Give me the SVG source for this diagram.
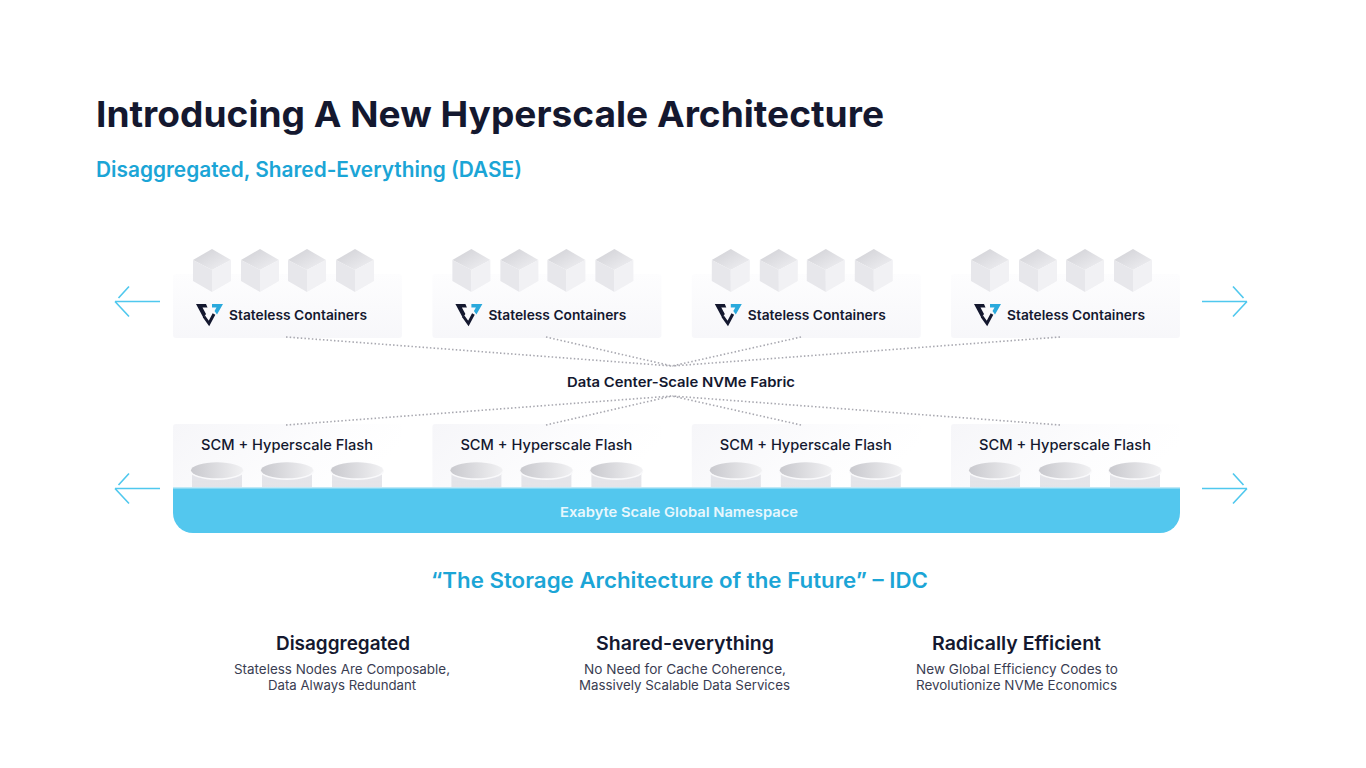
<svg xmlns="http://www.w3.org/2000/svg" width="1366" height="768" viewBox="0 0 1366 768">
<style>
text{font-family:"Inter","Liberation Sans",sans-serif;fill:#14182f}
.title{font-size:36px;font-weight:700}
.blue{fill:#1ba5d6;font-size:21px;font-weight:600}
.lbl{font-size:13.5px;font-weight:600}
.scm{font-size:14.5px;font-weight:500}
.head{font-size:19px;font-weight:600}
.sub{font-size:13px;font-weight:400;fill:#3a3d52}
.dot{stroke:#a8a8b0;stroke-width:1.6;stroke-dasharray:1.5 2.2;fill:none}
.arrow{stroke:#4fc8ee;stroke-width:1.6;fill:none}
</style>
<defs>
<linearGradient id="boxTop" x1="0" y1="0" x2="0" y2="1"><stop offset="0" stop-color="#fdfdfe"/><stop offset="1" stop-color="#f7f7fa"/></linearGradient>
<linearGradient id="boxBot" x1="0" y1="0" x2="1" y2="0.3"><stop offset="0" stop-color="#f6f6f9"/><stop offset="0.7" stop-color="#fdfdfe"/><stop offset="1" stop-color="#ffffff"/></linearGradient>
<linearGradient id="cubeTop" x1="0" y1="0" x2="1" y2="1"><stop offset="0" stop-color="#cfcfd4"/><stop offset="1" stop-color="#f1f1f4"/></linearGradient>
<linearGradient id="cylTop" x1="0" y1="0" x2="1" y2="0"><stop offset="0" stop-color="#c9c9ce"/><stop offset="1" stop-color="#f1f1f3"/></linearGradient>
<linearGradient id="cylBody" x1="0" y1="0" x2="0" y2="1"><stop offset="0" stop-color="#e6e6ea"/><stop offset="1" stop-color="#dcdce2" stop-opacity="0.75"/></linearGradient>
<filter id="soft" x="-10%" y="-10%" width="120%" height="120%"><feGaussianBlur stdDeviation="0.7"/></filter>
<g id="cube" filter="url(#soft)">
<path d="M0-21 19-10 0 0-19-10Z" fill="url(#cubeTop)"/>
<path d="M-19-10 0 0V22L-19 11Z" fill="#e7e7eb"/>
<path d="M19-10 0 0V22L19 11Z" fill="#f1f1f4"/>
</g>
<g id="cyl" filter="url(#soft)">
<path d="M-25 0V17H25V0Z" fill="url(#cylBody)"/>
<ellipse cx="0" cy="0" rx="27" ry="9" fill="#f9f9fb"/>
<ellipse cx="0" cy="-0.7" rx="26" ry="8" fill="url(#cylTop)"/>
</g>
<g id="logo">
<path d="M196 304H206L207.500 307.500H202.500L206 314 203.500 318Z" fill="#14182f"/>
<path d="M212 304H223L217 314.500 214.500 311 216.500 307.500H212Z" fill="#2aa9dc"/>
<path d="M204 316.500 209 323.500 214 314" fill="none" stroke="#14182f" stroke-width="3"/>
</g>
<path id="arrowL" d="M0 0H45M14-15 3.500-3.500M0 0 14 15"/>
</defs>

<g id="heading">
<text class="title" x="96" y="127" textLength="788" lengthAdjust="spacingAndGlyphs">Introducing A New Hyperscale Architecture</text>
<text class="blue" x="96" y="177" textLength="426" lengthAdjust="spacingAndGlyphs">Disaggregated, Shared-Everything (DASE)</text>
</g>

<g id="container-1">
<rect x="173" y="274" width="229" height="64" rx="3" fill="url(#boxTop)"/>
<use href="#cube" x="212" y="270"/><use href="#cube" x="260" y="270"/><use href="#cube" x="307" y="270"/><use href="#cube" x="355" y="270"/>
<use href="#logo"/>
<text class="lbl" x="229" y="320" textLength="138" lengthAdjust="spacingAndGlyphs">Stateless Containers</text>
</g>
<g id="container-2" transform="translate(259.400 0)">
<rect x="173" y="274" width="229" height="64" rx="3" fill="url(#boxTop)"/>
<use href="#cube" x="212" y="270"/><use href="#cube" x="260" y="270"/><use href="#cube" x="307" y="270"/><use href="#cube" x="355" y="270"/>
<use href="#logo"/>
<text class="lbl" x="229" y="320" textLength="138" lengthAdjust="spacingAndGlyphs">Stateless Containers</text>
</g>
<g id="container-3" transform="translate(518.800 0)">
<rect x="173" y="274" width="229" height="64" rx="3" fill="url(#boxTop)"/>
<use href="#cube" x="212" y="270"/><use href="#cube" x="260" y="270"/><use href="#cube" x="307" y="270"/><use href="#cube" x="355" y="270"/>
<use href="#logo"/>
<text class="lbl" x="229" y="320" textLength="138" lengthAdjust="spacingAndGlyphs">Stateless Containers</text>
</g>
<g id="container-4" transform="translate(778 0)">
<rect x="173" y="274" width="229" height="64" rx="3" fill="url(#boxTop)"/>
<use href="#cube" x="212" y="270"/><use href="#cube" x="260" y="270"/><use href="#cube" x="307" y="270"/><use href="#cube" x="355" y="270"/>
<use href="#logo"/>
<text class="lbl" x="229" y="320" textLength="138" lengthAdjust="spacingAndGlyphs">Stateless Containers</text>
</g>

<g id="fabric"><text class="lbl" x="567" y="386.500" textLength="228" lengthAdjust="spacingAndGlyphs">Data Center-Scale NVMe Fabric</text></g>

<g id="flash-1">
<rect x="173" y="424" width="229" height="66" rx="3" fill="url(#boxBot)"/>
<use href="#cyl" x="217" y="471"/><use href="#cyl" x="287" y="471"/><use href="#cyl" x="357" y="471"/>
<text class="scm" x="201" y="450" textLength="172" lengthAdjust="spacingAndGlyphs">SCM + Hyperscale Flash</text>
</g>
<g id="flash-2" transform="translate(259.400 0)">
<rect x="173" y="424" width="229" height="66" rx="3" fill="url(#boxBot)"/>
<use href="#cyl" x="217" y="471"/><use href="#cyl" x="287" y="471"/><use href="#cyl" x="357" y="471"/>
<text class="scm" x="201" y="450" textLength="172" lengthAdjust="spacingAndGlyphs">SCM + Hyperscale Flash</text>
</g>
<g id="flash-3" transform="translate(518.800 0)">
<rect x="173" y="424" width="229" height="66" rx="3" fill="url(#boxBot)"/>
<use href="#cyl" x="217" y="471"/><use href="#cyl" x="287" y="471"/><use href="#cyl" x="357" y="471"/>
<text class="scm" x="201" y="450" textLength="172" lengthAdjust="spacingAndGlyphs">SCM + Hyperscale Flash</text>
</g>
<g id="flash-4" transform="translate(778 0)">
<rect x="173" y="424" width="229" height="66" rx="3" fill="url(#boxBot)"/>
<use href="#cyl" x="217" y="471"/><use href="#cyl" x="287" y="471"/><use href="#cyl" x="357" y="471"/>
<text class="scm" x="201" y="450" textLength="172" lengthAdjust="spacingAndGlyphs">SCM + Hyperscale Flash</text>
</g>

<g id="namespace">
<rect x="173" y="487" width="1007" height="2" fill="#bfe9f7"/>
<path d="M173 488.500H1180V513a20 20 0 0 1-20 20H193a20 20 0 0 1-20-20Z" fill="#53c7ee"/>
<text x="560" y="517" font-size="13.500" font-weight="600" style="fill:#e8f7fd" textLength="238" lengthAdjust="spacingAndGlyphs">Exabyte Scale Global Namespace</text>
</g>

<g id="connectors">
<path class="dot" d="M286 337 672 366M546 337 672 366M801 337 672 366M1060 337 672 366"/>
<path class="dot" d="M286 425 672 396M546 425 672 396M801 425 672 396M1060 425 672 396"/>
<use href="#arrowL" class="arrow" transform="translate(115 301.500)"/>
<use href="#arrowL" class="arrow" transform="translate(115 488.500)"/>
<use href="#arrowL" class="arrow" transform="translate(1247 301.500) scale(-1 1)"/>
<use href="#arrowL" class="arrow" transform="translate(1247 488.500) scale(-1 1)"/>
</g>

<g id="quote"><text class="blue" x="431" y="587.500" textLength="497" lengthAdjust="spacingAndGlyphs">“The Storage Architecture of the Future” – IDC</text></g>

<g id="col-1">
<text class="head" x="276" y="649.500" textLength="134" lengthAdjust="spacingAndGlyphs">Disaggregated</text>
<text class="sub" x="234" y="673.500" textLength="216" lengthAdjust="spacingAndGlyphs">Stateless Nodes Are Composable,</text>
<text class="sub" x="268" y="690" textLength="148" lengthAdjust="spacingAndGlyphs">Data Always Redundant</text>
</g>
<g id="col-2">
<text class="head" x="596" y="649.500" textLength="178" lengthAdjust="spacingAndGlyphs">Shared-everything</text>
<text class="sub" x="584" y="673.500" textLength="202" lengthAdjust="spacingAndGlyphs">No Need for Cache Coherence,</text>
<text class="sub" x="579" y="690" textLength="211" lengthAdjust="spacingAndGlyphs">Massively Scalable Data Services</text>
</g>
<g id="col-3">
<text class="head" x="932" y="649.500" textLength="169" lengthAdjust="spacingAndGlyphs">Radically Efficient</text>
<text class="sub" x="916" y="673.500" textLength="202" lengthAdjust="spacingAndGlyphs">New Global Efficiency Codes to</text>
<text class="sub" x="916" y="690" textLength="201" lengthAdjust="spacingAndGlyphs">Revolutionize NVMe Economics</text>
</g>
</svg>
